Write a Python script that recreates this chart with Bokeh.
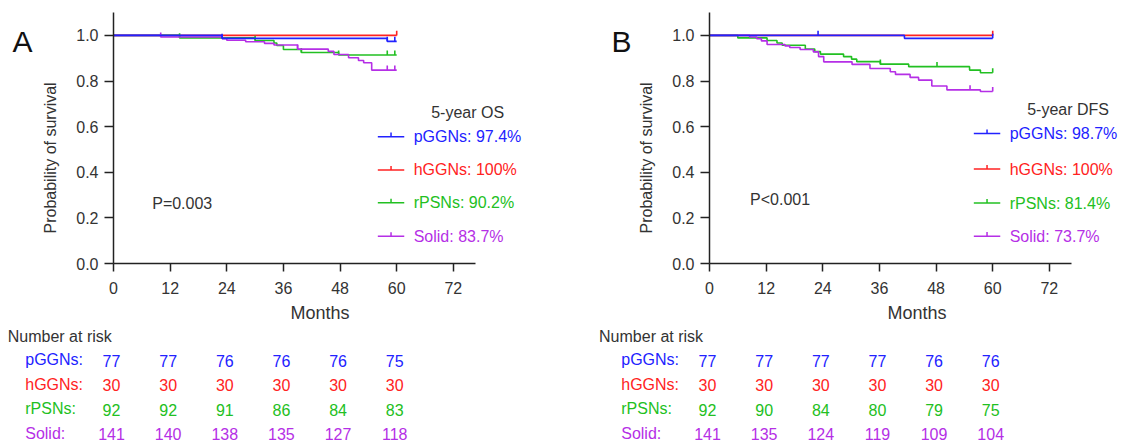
import numpy as np
from bokeh.plotting import figure
from bokeh.models import Range1d, FixedTicker, ColumnDataSource, NumeralTickFormatter
from bokeh.layouts import row, column
from bokeh.core.properties import value
from bokeh.embed import file_html
from bokeh.resources import INLINE

FONT = "Liberation Sans"
TXT = "#333333"

groups = ["pGGNs", "hGGNs", "rPSNs", "Solid"]
colors = ["#2222ff", "#ff2222", "#22c022", "#b52fe6"]
months_ticks = [0, 12, 24, 36, 48, 60, 72]
risk_months = [0, 12, 24, 36, 48, 60]

# ---- Panel A: overall survival ----
os_pggn_t = [0, 23, 58, 60]
os_pggn_s = [1.0, 0.987, 0.974, 0.974]
os_pggn_c = [23, 58, 59.6]
os_hggn_t = [0, 60]
os_hggn_s = [1.0, 1.0]
os_hggn_c = [60]
os_rpsn_t = [0, 14, 30, 34, 34.6, 36, 39.8, 47.7, 60]
os_rpsn_s = [1.0, 0.989, 0.978, 0.967, 0.956, 0.938, 0.925, 0.914, 0.914]
os_rpsn_c = [14, 30, 39.8, 47.7, 58, 59.6]
os_solid_t = [0, 10, 23, 24, 28, 32, 34, 39, 45.5, 46.7, 49.8, 51.9, 53, 54.7, 60]
os_solid_s = [1.0, 0.993, 0.986, 0.979, 0.972, 0.965, 0.958, 0.940, 0.930, 0.916,
              0.902, 0.890, 0.880, 0.848, 0.848]
os_solid_c = [10, 39, 58, 59.6]
os_5yr = ["97.4%", "100%", "90.2%", "83.7%"]
os_risk_pggn = [77, 77, 76, 76, 76, 75]
os_risk_hggn = [30, 30, 30, 30, 30, 30]
os_risk_rpsn = [92, 92, 91, 86, 84, 83]
os_risk_solid = [141, 140, 138, 135, 127, 118]

# ---- Panel B: disease-free survival ----
dfs_pggn_t = [0, 41.3, 60]
dfs_pggn_s = [1.0, 0.987, 0.987]
dfs_pggn_c = [23, 60]
dfs_hggn_t = [0, 60]
dfs_hggn_s = [1.0, 1.0]
dfs_hggn_c = [60]
dfs_rpsn_t = [0, 6, 12.2, 14.3, 15.4, 20.3, 22.3, 23.5, 28.4, 30.1, 31.2, 36.2, 42.2, 55.1, 57.4, 60]
dfs_rpsn_s = [1.0, 0.989, 0.978, 0.967, 0.957, 0.940, 0.929, 0.918, 0.907, 0.896, 0.885,
              0.874, 0.863, 0.848, 0.836, 0.836]
dfs_rpsn_c = [36.2, 48.2, 60]
dfs_solid_t = [0, 8.5, 10, 11, 12.2, 16, 17, 19.2, 22, 23.1, 24.2, 30.2, 34, 38.3, 39.4,
               42.5, 44.3, 47.1, 50.3, 57.4, 60]
dfs_solid_s = [1.0, 0.993, 0.986, 0.976, 0.960, 0.954, 0.947, 0.938, 0.928, 0.907, 0.884,
               0.873, 0.855, 0.841, 0.829, 0.816, 0.804, 0.778, 0.761, 0.754, 0.754]
dfs_solid_c = [55.2, 60]
dfs_5yr = ["98.7%", "100%", "81.4%", "73.7%"]
dfs_risk_pggn = [77, 77, 77, 77, 76, 76]
dfs_risk_hggn = [30, 30, 30, 30, 30, 30]
dfs_risk_rpsn = [92, 90, 84, 80, 79, 75]
dfs_risk_solid = [141, 135, 124, 119, 109, 104]

# ---- layout constants (pixels) ----
PXPM = 4.72      # pixels per month
PXY = 229.0      # pixels per unit of survival
PLOT_H = 325
TOP_B = 12
BOT_B = 61
FRAME_H = PLOT_H - TOP_B - BOT_B
TAB_H = 117
ROW_PX = 24.4
ROW0 = 11        # first table row centre below table top
SIDE_W = 64      # strip holding panel letter and y-axis title
AX_LEFT = 113    # y axis position from panel left


def step_at(t, s, c):
    idx = np.searchsorted(np.asarray(t, float), np.asarray(c, float), side="right") - 1
    return np.asarray(s, float)[idx]


def side_figure(letter, letter_x):
    f = figure(width=SIDE_W, height=PLOT_H, output_backend="svg", toolbar_location=None,
               x_range=Range1d(0, SIDE_W), y_range=Range1d(0, FRAME_H / PXY),
               min_border_left=0, min_border_right=0, min_border_top=TOP_B, min_border_bottom=BOT_B)
    f.axis.visible = False
    f.grid.visible = False
    f.outline_line_color = None
    f.text(x=[letter_x], y=[(264 - 41) / PXY], text=[letter], text_font=value(FONT),
           text_font_size="30px", text_color="#111111", text_align="left", text_baseline="alphabetic")
    f.text(x=[50], y=[(264 - 158) / PXY], text=["Probability of survival"], angle=np.pi / 2,
           text_font=value(FONT), text_font_size="16px", text_color=TXT,
           text_align="center", text_baseline="middle")
    return f


def km_figure(width, frame_w, curves, five_yr, title, pval, pval_xy, leg_rows):
    left = AX_LEFT - SIDE_W
    p = figure(width=width, height=PLOT_H, output_backend="svg", toolbar_location=None,
               x_range=Range1d(0, frame_w / PXPM), y_range=Range1d(0, FRAME_H / PXY),
               min_border_left=left, min_border_right=width - left - frame_w,
               min_border_top=TOP_B, min_border_bottom=BOT_B)
    p.outline_line_color = None
    p.grid.visible = False

    for i in [1, 2, 3, 0]:
        t, s, c = curves[i]
        p.step(x=t, y=s, mode="after", line_color=colors[i], line_width=1.6)
        cy = step_at(t, s, c)
        src = ColumnDataSource(dict(x=c, y0=cy, y1=cy + 0.02))
        p.segment(x0="x", y0="y0", x1="x", y1="y1", source=src, line_color=colors[i], line_width=1.6)

    xa = p.xaxis[0]
    xa.ticker = FixedTicker(ticks=months_ticks)
    xa.bounds = (0, 76.8)
    xa.axis_label = "Months"
    xa.axis_label_text_font = FONT
    xa.axis_label_text_font_size = "18px"
    xa.axis_label_text_font_style = "normal"
    xa.axis_label_text_color = TXT
    xa.axis_label_standoff = 6
    xa.major_label_standoff = 10
    xa.major_tick_out = 8
    xa.major_tick_in = 0
    ya = p.yaxis[0]
    ya.ticker = FixedTicker(ticks=[0, 0.2, 0.4, 0.6, 0.8, 1.0])
    ya.formatter = NumeralTickFormatter(format="0.0")
    ya.major_label_standoff = 6
    ya.major_tick_out = 9
    ya.major_tick_in = 0
    for ax in (xa, ya):
        ax.minor_tick_line_color = None
        ax.axis_line_color = "#222222"
        ax.axis_line_width = 1.5
        ax.major_tick_line_color = "#222222"
        ax.major_tick_line_width = 1.5
        ax.major_label_text_font = FONT
        ax.major_label_text_font_size = "16px"
        ax.major_label_text_color = TXT

    lx0, lx1, ltx = 56.0, 61.6, 63.6
    lsrc = ColumnDataSource(dict(
        y=leg_rows, c=colors,
        t=[f"{g}: {v}" for g, v in zip(groups, five_yr)],
        x0=[lx0] * 4, x1=[lx1] * 4, xm=[(lx0 + lx1) / 2] * 4, xt=[ltx] * 4,
        ytop=[r + 0.018 for r in leg_rows]))
    p.segment(x0="x0", y0="y", x1="x1", y1="y", source=lsrc, line_color="c", line_width=1.5)
    p.segment(x0="xm", y0="y", x1="xm", y1="ytop", source=lsrc, line_color="c", line_width=1.5)
    p.text(x="xt", y="y", text="t", source=lsrc, text_color="c", text_font=value(FONT),
           text_font_size="16px", text_baseline="middle", text_align="left")
    p.text(x=[67.3], y=[leg_rows[0] + 0.107], text=[title], text_color=TXT, text_font=value(FONT),
           text_font_size="16px", text_baseline="middle", text_align="left")
    p.text(x=[pval_xy[0]], y=[pval_xy[1]], text=[pval], text_color=TXT, text_font=value(FONT),
           text_font_size="16px", text_baseline="middle", text_align="left")
    return p


def risk_figure(width, risks, nar_x):
    top_idx = -ROW0 / ROW_PX
    bot_idx = (TAB_H - ROW0) / ROW_PX
    t = figure(width=width, height=TAB_H, output_backend="svg", toolbar_location=None,
               x_range=Range1d(-AX_LEFT / PXPM, (width - AX_LEFT) / PXPM),
               y_range=Range1d(bot_idx, top_idx),
               min_border_left=0, min_border_right=0, min_border_top=0, min_border_bottom=0)
    t.axis.visible = False
    t.grid.visible = False
    t.outline_line_color = None
    t.text(x=[nar_x], y=[0], text=["Number at risk"], text_color=TXT, text_font=value(FONT),
           text_font_size="16px", text_baseline="middle", text_align="left")
    lab = ColumnDataSource(dict(x=[-18.7] * 4, y=[1, 2, 3, 4], t=[g + ":" for g in groups], c=colors))
    t.text(x="x", y="y", text="t", source=lab, text_color="c", text_font=value(FONT),
           text_font_size="16px", text_baseline="middle", text_align="left", y_offset=-1)
    xs, ys, ts, cs = [], [], [], []
    for i, r in enumerate(risks):
        for m, n in zip(risk_months, r):
            xs.append(m); ys.append(i + 1); ts.append(str(n)); cs.append(colors[i])
    src = ColumnDataSource(dict(x=xs, y=ys, t=ts, c=cs))
    t.text(x="x", y="y", text="t", source=src, text_color="c", text_font=value(FONT),
           text_font_size="16px", text_baseline="middle", text_align="center", x_offset=-2)
    return t


curvesA = [(os_pggn_t, os_pggn_s, os_pggn_c), (os_hggn_t, os_hggn_s, os_hggn_c),
           (os_rpsn_t, os_rpsn_s, os_rpsn_c), (os_solid_t, os_solid_s, os_solid_c)]
curvesB = [(dfs_pggn_t, dfs_pggn_s, dfs_pggn_c), (dfs_hggn_t, dfs_hggn_s, dfs_hggn_c),
           (dfs_rpsn_t, dfs_rpsn_s, dfs_rpsn_c), (dfs_solid_t, dfs_solid_s, dfs_solid_c)]

PANEL_A_W, PANEL_B_W = 596, 530

sA = side_figure("A", 12)
pA = km_figure(PANEL_A_W - SIDE_W, 413, curvesA, os_5yr, "5-year OS", "P=0.003",
               (8.2, (264 - 204) / PXY), [0.556, 0.410, 0.266, 0.119])
sB = side_figure("B", 15)
pB = km_figure(PANEL_B_W - SIDE_W, 415, curvesB, dfs_5yr, "5-year DFS", "P<0.001",
               (8.6, (264 - 200) / PXY), [0.57, 0.414, 0.265, 0.12])
tA = risk_figure(PANEL_A_W, [os_risk_pggn, os_risk_hggn, os_risk_rpsn, os_risk_solid], -22.4)
tB = risk_figure(PANEL_B_W, [dfs_risk_pggn, dfs_risk_hggn, dfs_risk_rpsn, dfs_risk_solid], -23.4)

layout = column(row(sA, pA, sB, pB), row(tA, tB))
open("out.html", "w").write(file_html(layout, INLINE))
